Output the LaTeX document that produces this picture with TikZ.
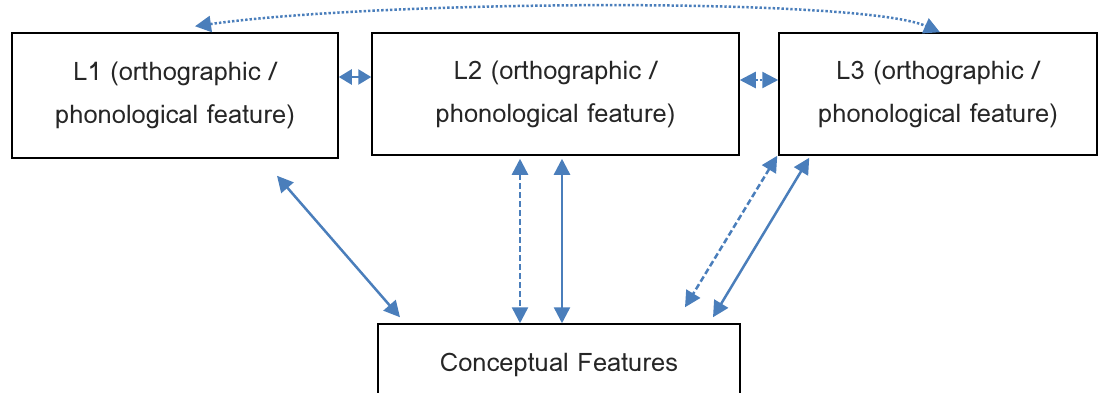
\documentclass[tikz,border=0pt]{standalone}
\usepackage{fontspec}
\setmainfont[Script=Thai]{Loma}
\usetikzlibrary{arrows.meta,calc}
\definecolor{linkblue}{RGB}{74,126,187}
\tikzset{
  featbox/.style={draw=black, line width=1.5pt, rectangle, align=center,
    font=\fontsize{25.5}{43}\selectfont, text=black!85, inner sep=0pt},
  link/.style={draw=linkblue, line width=2.5pt,
    {Triangle[length=16pt,width=16pt]}-{Triangle[length=16pt,width=16pt]}},
  shortlink/.style={link,
    {Triangle[length=13pt,width=15pt]}-{Triangle[length=13pt,width=15pt]}},
  dashlink/.style={link, dash pattern=on 6pt off 3pt},
  dotlink/.style={link, dash pattern=on 2.4pt off 2pt},
}
\begin{document}
\begin{tikzpicture}[x=1pt,y=-1pt]
\useasboundingbox (0,0) rectangle (1098,392);
% language boxes
\node[featbox, minimum width=326pt, minimum height=125pt] (L1) at (175,95.5)
  {L1 (orthographic /\\phonological feature)};
\node[featbox, minimum width=367pt, minimum height=122pt] (L2) at (555.5,94)
  {L2 (orthographic /\\phonological feature)};
\node[featbox, minimum width=318pt, minimum height=122pt] (L3) at (938,94)
  {L3 (orthographic /\\phonological feature)};
% shared conceptual store
\node[featbox, minimum width=362pt, minimum height=82pt] (CF) at (559,365)
  {Conceptual Features};

% links between neighbouring languages
\draw[shortlink] ([yshift=18.5pt]L1.east) -- ([yshift=17pt]L2.west);
\draw[dotlink] ([yshift=14pt]L2.west -| L2.east) -- ([yshift=14pt]L3.west);
% long-range link L1 -- L3
\draw[dotlink] ([xshift=20pt,yshift=6pt]L1.north)
  .. controls (380,0) and (860,-3) .. ([xshift=2pt]L3.north);

% links to the conceptual store
\draw[link] ([xshift=102pt,yshift=-17pt]L1.south) -- ([xshift=-159pt,yshift=6pt]CF.north);
\draw[dashlink] ([xshift=-35.5pt,yshift=-3pt]L2.south) -- ([xshift=-39pt]CF.north);
\draw[link] ([xshift=6.5pt,yshift=-3pt]L2.south) -- ([xshift=3pt]CF.north);
\draw[dashlink] ([xshift=-1pt]L3.south west) -- ([xshift=126pt,yshift=16pt]CF.north);
\draw[link] ([xshift=31pt,yshift=-2pt]L3.south west) -- ([xshift=154pt,yshift=6pt]CF.north);
\end{tikzpicture}
\end{document}
